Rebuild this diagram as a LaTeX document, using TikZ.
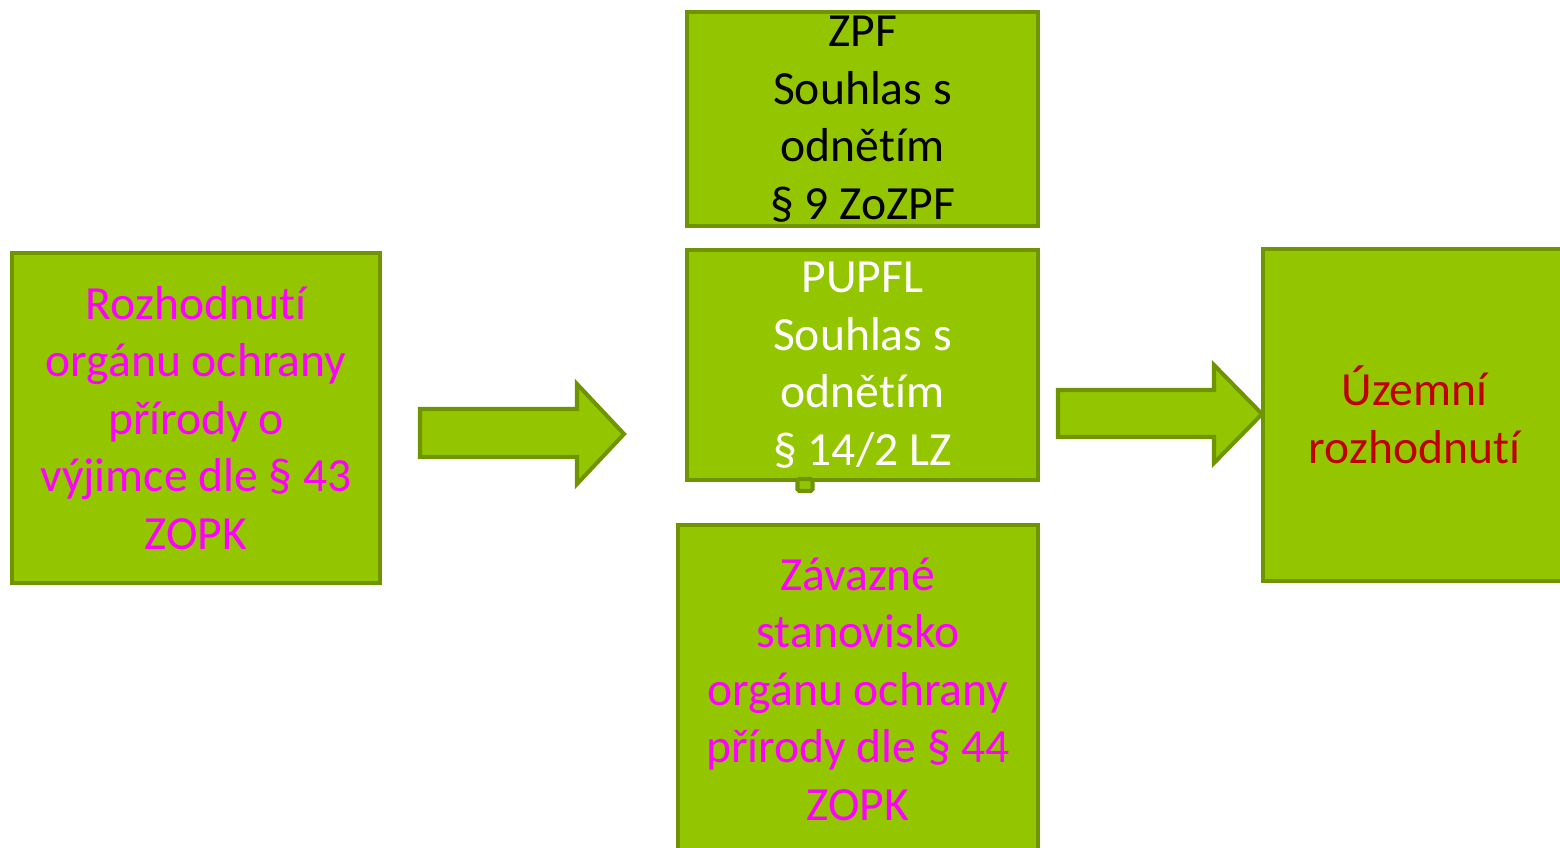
\documentclass[tikz,border=0pt]{standalone}
\usepackage{fontspec}
\setmainfont{Carlito}[Ligatures=NoCommon]
\definecolor{boxfill}{HTML}{94C600}
\definecolor{boxline}{HTML}{6E9400}
\definecolor{mag}{HTML}{FF00FF}
\definecolor{darkred}{HTML}{C00000}
\tikzset{
  box/.style={draw=boxline, fill=boxfill, line width=2.3pt, inner sep=0pt, align=center,
    font=\fontsize{27.1}{32.7}\selectfont},
  blockarrow/.style={draw=boxline, fill=boxfill, line width=2.3pt, line join=miter}
}
\begin{document}
\begin{tikzpicture}[x=0.02cm,y=-0.02cm]
\useasboundingbox (0,0) rectangle (1560,848);
\clip (0,0) rectangle (1560,848);
\node[box, minimum width=7.36cm, minimum height=6.6cm, text=mag] (left) at (196,418)
  {Rozhodnutí\\orgánu ochrany\\přírody o\\výjimce dle § 43\\ZOPK};
\node[box, minimum width=7.02cm, minimum height=4.28cm, text=black] (zpf) at (862.5,119)
  {ZPF\\Souhlas s\\odnětím\\§ 9 ZoZPF};
\node[box, minimum width=7.02cm, minimum height=4.6cm, text=white] (pupfl) at (862.5,365)
  {PUPFL\\Souhlas s\\odnětím\\§ 14/2 LZ};
\node[draw=boxline, fill=boxfill, line width=2.3pt, rounded corners=1pt, minimum width=0.3cm, minimum height=0.24cm, inner sep=0pt] (tab) at (805,485) {};
\node[box, minimum width=7.2cm, minimum height=6.56cm, text=mag] (zs) at (858,689)
  {Závazné\\stanovisko\\orgánu ochrany\\přírody dle § 44\\ZOPK};
\node[box, minimum width=6.06cm, minimum height=6.66cm, text=darkred] (ur) at (1414.5,415)
  {Územní\\rozhodnutí};
\draw[blockarrow] (420,409) -- (577,409) -- (577,384) -- (624,434) -- (577,484) -- (577,457) -- (420,457) -- cycle;
\draw[blockarrow] (1058,390) -- (1214,390) -- (1214,365) -- (1262,414) -- (1214,463) -- (1214,437) -- (1058,437) -- cycle;
\end{tikzpicture}
\end{document}
